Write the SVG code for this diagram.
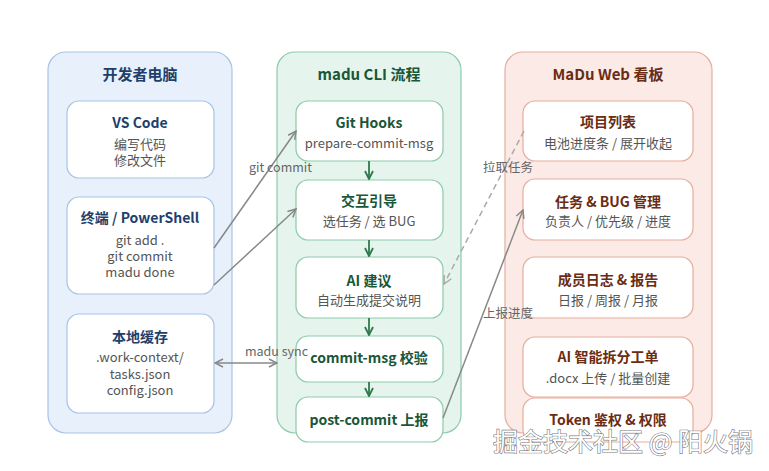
<svg xmlns="http://www.w3.org/2000/svg" width="769" height="471" viewBox="0 0 769 471">
<defs>
<style>
text{font-family:"Noto Sans CJK SC","Noto Sans",sans-serif;text-anchor:middle}
.pt{font-size:15px;font-weight:700}
.nt{font-size:14px;font-weight:700}
.sub{font-size:13px;fill:#555}
.lbl{font-size:12.5px;fill:#666;text-anchor:start}
.blue .pt,.blue .nt{fill:#1e3f6b}
.green .pt,.green .nt{fill:#1a5638}
.red .pt,.red .nt{fill:#6a2c12}
.pb{fill:#e7f0fb;stroke:#a8c3e6;stroke-width:1.2}
.pg{fill:#e5f4ec;stroke:#8ccbab;stroke-width:1.2}
.pr{fill:#fbeae6;stroke:#e6ad9d;stroke-width:1.2}
.nb{fill:#fff;stroke:#a8c3e6;stroke-width:1.2}
.ng{fill:#fff;stroke:#8ccbab;stroke-width:1.2}
.nr{fill:#fff;stroke:#e6ad9d;stroke-width:1.2}
.cg{stroke:#888;stroke-width:1.5;fill:none}
.cgd{stroke:#aaa;stroke-width:1.5;fill:none;stroke-dasharray:6 4}
.cgr{stroke:#2e7a4c;stroke-width:1.8;fill:none}
.wm{font-size:25px;fill:#fff;stroke:#7a7a7a;stroke-width:1.2;paint-order:stroke}
</style>
<marker id="ag" viewBox="0 0 10 10" refX="9" refY="5" markerWidth="10" markerHeight="10" markerUnits="userSpaceOnUse" orient="auto-start-reverse">
<path d="M1,1 L9,5 L1,9" fill="none" stroke="#888" stroke-width="1.5"/>
</marker>
<marker id="agd" viewBox="0 0 10 10" refX="9" refY="5" markerWidth="10" markerHeight="10" markerUnits="userSpaceOnUse" orient="auto">
<path d="M1,1 L9,5 L1,9" fill="none" stroke="#aaa" stroke-width="1.5"/>
</marker>
<marker id="agr" viewBox="0 0 10 10" refX="9" refY="5" markerWidth="10" markerHeight="10" markerUnits="userSpaceOnUse" orient="auto">
<path d="M1,1 L9,5 L1,9" fill="none" stroke="#2e7a4c" stroke-width="1.8"/>
</marker>
</defs>
<rect width="769" height="471" fill="#fff"/>

<g id="panel-dev" class="blue">
<rect class="pb" x="48" y="52" width="184" height="381" rx="18"/>
<text class="pt" x="140" y="80">开发者电脑</text>
</g>
<g id="panel-cli" class="green">
<rect class="pg" x="277" y="52" width="184" height="381" rx="18"/>
<text class="pt" x="369" y="80">madu CLI 流程</text>
</g>
<g id="panel-web" class="red">
<rect class="pr" x="505" y="52" width="207" height="381" rx="18"/>
<text class="pt" x="608" y="80">MaDu Web 看板</text>
</g>

<g id="n-vscode" class="blue">
<rect class="nb" x="67" y="101" width="147" height="77" rx="12"/>
<text class="nt" x="140" y="128">VS Code</text>
<text class="sub" x="140" y="149">编写代码</text>
<text class="sub" x="140" y="165">修改文件</text>
</g>
<g id="n-terminal" class="blue">
<rect class="nb" x="67" y="197" width="147" height="97" rx="12"/>
<text class="nt" x="140" y="223">终端 / PowerShell</text>
<text class="sub" x="140" y="245">git add .</text>
<text class="sub" x="140" y="261">git commit</text>
<text class="sub" x="140" y="277">madu done</text>
</g>
<g id="n-cache" class="blue">
<rect class="nb" x="67" y="314" width="147" height="99" rx="12"/>
<text class="nt" x="140" y="342">本地缓存</text>
<text class="sub" x="140" y="362">.work-context/</text>
<text class="sub" x="140" y="379">tasks.json</text>
<text class="sub" x="140" y="395">config.json</text>
</g>

<g id="n-hooks" class="green">
<rect class="ng" x="296" y="101" width="147" height="60" rx="12"/>
<text class="nt" x="369" y="128">Git Hooks</text>
<text class="sub" x="369" y="148">prepare-commit-msg</text>
</g>
<g id="n-guide" class="green">
<rect class="ng" x="296" y="180" width="147" height="60" rx="12"/>
<text class="nt" x="369" y="206">交互引导</text>
<text class="sub" x="369" y="226">选任务 / 选 BUG</text>
</g>
<g id="n-ai" class="green">
<rect class="ng" x="296" y="257" width="147" height="61" rx="12"/>
<text class="nt" x="369" y="286">AI 建议</text>
<text class="sub" x="369" y="305">自动生成提交说明</text>
</g>
<g id="n-check" class="green">
<rect class="ng" x="296" y="336" width="147" height="46" rx="12"/>
<text class="nt" x="369" y="363">commit-msg 校验</text>
</g>
<g id="n-post" class="green">
<rect class="ng" x="296" y="397" width="147" height="45" rx="12"/>
<text class="nt" x="369" y="425">post-commit 上报</text>
</g>

<g id="n-projects" class="red">
<rect class="nr" x="523" y="101" width="170" height="60" rx="12"/>
<text class="nt" x="608" y="127">项目列表</text>
<text class="sub" x="608" y="148">电池进度条 / 展开收起</text>
</g>
<g id="n-tasks" class="red">
<rect class="nr" x="523" y="179" width="170" height="61" rx="12"/>
<text class="nt" x="608" y="207">任务 &amp; BUG 管理</text>
<text class="sub" x="608" y="226">负责人 / 优先级 / 进度</text>
</g>
<g id="n-logs" class="red">
<rect class="nr" x="523" y="257" width="170" height="61" rx="12"/>
<text class="nt" x="608" y="285">成员日志 &amp; 报告</text>
<text class="sub" x="608" y="305">日报 / 周报 / 月报</text>
</g>
<g id="n-split" class="red">
<rect class="nr" x="523" y="337" width="170" height="60" rx="12"/>
<text class="nt" x="608" y="362">AI 智能拆分工单</text>
<text class="sub" x="608" y="383">.docx 上传 / 批量创建</text>
</g>
<g id="n-token" class="red">
<rect class="nr" x="523" y="398" width="170" height="44" rx="12"/>
<text class="nt" x="608" y="425">Token 鉴权 &amp; 权限</text>
</g>

<g id="connectors">
<line class="cgr" x1="369" y1="161" x2="369" y2="179" marker-end="url(#agr)"/>
<line class="cgr" x1="369" y1="240" x2="369" y2="256" marker-end="url(#agr)"/>
<line class="cgr" x1="369" y1="318" x2="369" y2="335" marker-end="url(#agr)"/>
<line class="cgr" x1="369" y1="382" x2="369" y2="396" marker-end="url(#agr)"/>
<line class="cg" x1="214" y1="248" x2="296" y2="131" marker-end="url(#ag)"/>
<line class="cg" x1="214" y1="285" x2="296" y2="209" marker-end="url(#ag)"/>
<line class="cg" x1="215" y1="363" x2="277" y2="363" marker-start="url(#ag)" marker-end="url(#ag)"/>
<line class="cgd" x1="524" y1="131" x2="444" y2="284" marker-end="url(#agd)"/>
<line class="cg" x1="443" y1="418" x2="523" y2="210" marker-end="url(#ag)"/>
<text class="lbl" x="249" y="172">git commit</text>
<text class="lbl" x="245" y="356">madu sync</text>
<text class="lbl" x="483" y="172">拉取任务</text>
<text class="lbl" x="483" y="318">上报进度</text>
</g>

<text class="wm" x="623" y="451">掘金技术社区 @ 阳火锅</text>
</svg>
